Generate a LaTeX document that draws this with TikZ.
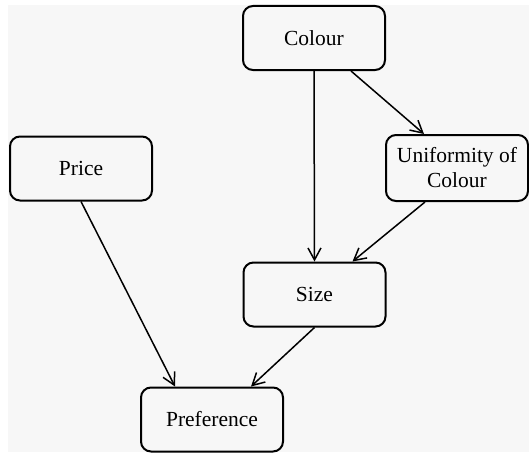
\documentclass[tikz,border=0pt]{standalone}
\usepackage{fontspec}
\setmainfont{Liberation Serif}
\usetikzlibrary{arrows.meta}
\definecolor{bggray}{RGB}{247,247,247}
\begin{document}
\begin{tikzpicture}[x=1pt,y=-1pt]
	\tikzstyle{var} = [draw, fill=bggray, line width=2pt, rounded corners=10pt, minimum width=142pt, minimum height=64pt, align=center, font=\fontsize{21.5}{25}\selectfont]
	\tikzstyle{dep} = [line width=1.5pt, -{Straight Barb[length=12pt,width=13pt]}]
	\useasboundingbox (0,0) rectangle (529,452);
	\fill[bggray] (8,5) rectangle (529,452);

	\node[var] (colour) at (314,38) {Colour};
	\node[var] (price) at (81,168.5) {Price};
	\node[var, minimum height=66pt] (unif) at (457,168) {Uniformity of\\Colour};
	\node[var] (size) at (314.5,294.5) {Size};
	\node[var] (pref) at (212,419.5) {Preference};

	\draw[dep] (colour.south) -- (size.north);
	\draw[dep] ([xshift=37pt]colour.south) -- ([xshift=-33pt]unif.north);
	\draw[dep] ([xshift=-32pt]unif.south) -- ([xshift=38pt]size.north);
	\draw[dep] (size.south) -- ([xshift=39pt]pref.north);
	\draw[dep] (price.south) -- ([xshift=-37pt]pref.north);
\end{tikzpicture}
\end{document}
